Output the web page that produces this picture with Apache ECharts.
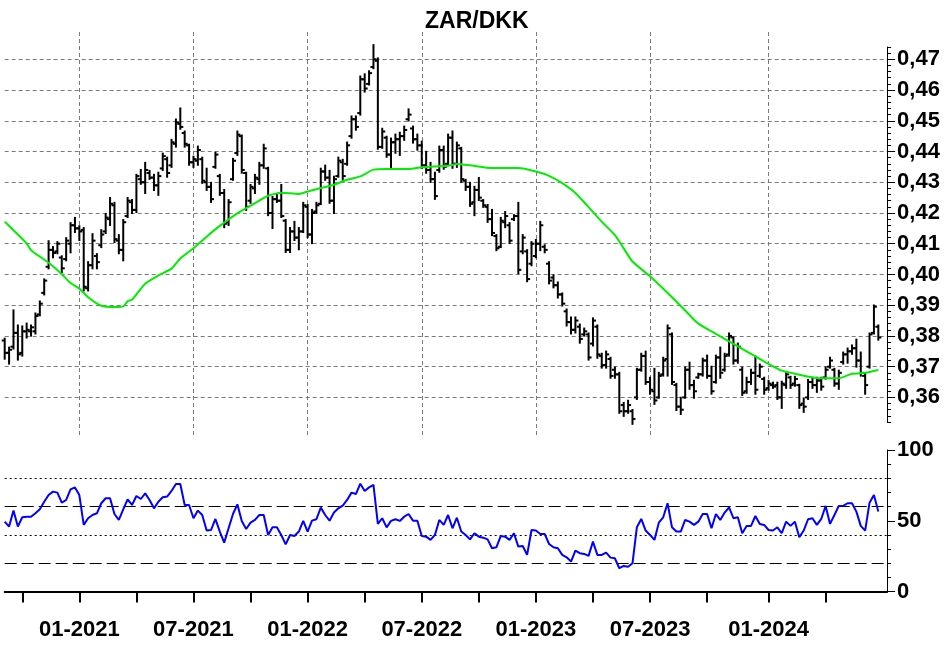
<!DOCTYPE html>
<html>
<head>
<meta charset="utf-8">
<script src="https://cdn.jsdelivr.net/npm/echarts@6/dist/echarts.min.js"></script>
<style>html,body{margin:0;padding:0;background:#fff}#c{width:950px;height:650px}</style>
</head>
<body>
<div id="c"></div>
<script>
// ---- data (weekly bars, Sunday-dated weeks) ----
const firstWeek = '2020-09-06';
const weekCount = 202; // 200 bars + 2 empty weeks of right margin

const open = [
.3785,.3745,.3765,.3810,.3745,.3815,.3815,.3815,.3870,.3940,
.4025,.4080,.4075,.4055,.4050,.4100,.4160,.4150,.4145,.3955,
.4030,.4060,.4095,.4140,.4180,.4225,.4110,.4080,.4190,.4235,
.4210,.4310,.4300,.4330,.4315,.4290,.4345,.4375,.4355,.4425,
.4490,.4460,.4420,.4365,.4370,.4375,.4300,.4285,.4350,.4320,
.4265,.4170,.4310,.4395,.4450,.4330,.4240,.4280,.4310,.4355,
.4345,.4200,.4245,.4240,.4175,.4080,.4140,.4120,.4140,.4220,
.4130,.4205,.4230,.4335,.4315,.4240,.4320,.4365,.4360,.4450,
.4505,.4525,.4635,.4620,.4675,.4695,.4415,.4445,.4390,.4430,
.4440,.4450,.4505,.4475,.4440,.4420,.4355,.4340,.4310,.4340,
.4405,.4360,.4445,.4360,.4410,.4305,.4285,.4235,.4275,.4240,
.4220,.4180,.4125,.4090,.4170,.4160,.4180,.4190,.4075,.4075,
.4035,.4060,.4100,.4090,.4035,.3990,.3965,.3935,.3880,.3845,
.3820,.3830,.3805,.3805,.3775,.3830,.3735,.3705,.3725,.3690,
.3675,.3575,.3555,.3555,.3600,.3690,.3735,.3650,.3620,.3600,
.3675,.3725,.3805,.3640,.3570,.3600,.3690,.3640,.3665,.3675,
.3720,.3670,.3650,.3730,.3690,.3740,.3795,.3720,.3690,.3620,
.3650,.3680,.3670,.3660,.3630,.3640,.3640,.3600,.3640,.3665,
.3645,.3640,.3580,.3600,.3650,.3640,.3655,.3665,.3700,.3690,
.3645,.3715,.3740,.3750,.3760,.3720,.3670,.3700,.3810,.3830];

const high = [
.3791,.3762,.3883,.3834,.3831,.3840,.3834,.3873,.3912,.3984,
.4108,.4089,.4105,.4059,.4118,.4167,.4184,.4157,.4151,.4040,
.4131,.4066,.4144,.4197,.4249,.4233,.4128,.4177,.4249,.4242,
.4324,.4340,.4363,.4337,.4324,.4331,.4393,.4380,.4438,.4504,
.4540,.4465,.4422,.4383,.4416,.4380,.4344,.4298,.4396,.4324,
.4275,.4242,.4376,.4465,.4452,.4331,.4291,.4324,.4363,.4422,
.4347,.4252,.4259,.4291,.4177,.4151,.4171,.4151,.4233,.4226,
.4210,.4233,.4344,.4354,.4337,.4318,.4380,.4373,.4429,.4514,
.4514,.4644,.4651,.4661,.4746,.4703,.4474,.4448,.4442,.4455,
.4461,.4481,.4537,.4481,.4455,.4432,.4399,.4363,.4331,.4416,
.4416,.4455,.4465,.4429,.4412,.4308,.4298,.4285,.4314,.4242,
.4226,.4210,.4128,.4184,.4203,.4167,.4193,.4233,.4128,.4079,
.4105,.4112,.4171,.4095,.4040,.3997,.3974,.3938,.3886,.3860,
.3860,.3837,.3824,.3808,.3857,.3834,.3742,.3749,.3729,.3697,
.3680,.3582,.3589,.3559,.3693,.3742,.3749,.3664,.3693,.3680,
.3729,.3834,.3808,.3644,.3599,.3697,.3713,.3654,.3677,.3726,
.3736,.3700,.3736,.3762,.3742,.3808,.3795,.3775,.3697,.3664,
.3690,.3733,.3707,.3664,.3654,.3648,.3648,.3651,.3680,.3667,
.3667,.3641,.3595,.3657,.3664,.3664,.3664,.3697,.3729,.3693,
.3687,.3746,.3759,.3769,.3788,.3746,.3677,.3808,.3899,.3834];

const low = [
.3726,.3710,.3759,.3723,.3736,.3795,.3801,.3808,.3867,.3935,
.4020,.4056,.4069,.4007,.4046,.4072,.4138,.4112,.3948,.3948,
.4020,.4020,.4089,.4135,.4161,.4105,.4069,.4046,.4187,.4200,
.4203,.4295,.4265,.4311,.4275,.4259,.4340,.4318,.4350,.4416,
.4474,.4416,.4357,.4350,.4357,.4298,.4275,.4236,.4347,.4259,
.4154,.4161,.4308,.4389,.4331,.4210,.4233,.4265,.4295,.4347,
.4193,.4151,.4236,.4187,.4073,.4073,.4112,.4082,.4138,.4121,
.4102,.4200,.4229,.4308,.4233,.4200,.4318,.4308,.4357,.4445,
.4471,.4520,.4595,.4618,.4671,.4409,.4412,.4383,.4347,.4396,
.4389,.4438,.4501,.4429,.4406,.4347,.4331,.4301,.4246,.4334,
.4344,.4357,.4347,.4350,.4301,.4275,.4223,.4193,.4242,.4220,
.4171,.4128,.4079,.4089,.4154,.4102,.4177,.4004,.4069,.3978,
.4030,.4056,.4079,.4072,.3971,.3958,.3925,.3899,.3834,.3808,
.3811,.3778,.3801,.3723,.3769,.3729,.3697,.3697,.3664,.3664,
.3550,.3540,.3550,.3514,.3595,.3687,.3644,.3612,.3579,.3599,
.3671,.3671,.3644,.3559,.3546,.3599,.3628,.3599,.3664,.3671,
.3664,.3612,.3648,.3664,.3687,.3736,.3710,.3713,.3608,.3615,
.3644,.3612,.3667,.3612,.3625,.3631,.3595,.3566,.3631,.3631,
.3638,.3566,.3553,.3595,.3631,.3618,.3625,.3661,.3697,.3638,
.3628,.3710,.3713,.3742,.3700,.3671,.3612,.3697,.3808,.3788];

const close = [
.3745,.3755,.3810,.3740,.3815,.3820,.3828,.3865,.3905,.3980,
.4080,.4070,.4100,.4020,.4110,.4160,.4150,.4140,.3960,.4030,
.4110,.4040,.4130,.4185,.4230,.4115,.4080,.4170,.4240,.4210,
.4320,.4300,.4340,.4315,.4290,.4320,.4385,.4330,.4430,.4495,
.4480,.4425,.4365,.4375,.4405,.4305,.4285,.4245,.4390,.4265,
.4165,.4235,.4370,.4455,.4340,.4220,.4285,.4315,.4355,.4410,
.4200,.4245,.4240,.4190,.4080,.4140,.4120,.4140,.4225,.4130,
.4200,.4225,.4335,.4315,.4240,.4310,.4370,.4320,.4420,.4505,
.4480,.4635,.4605,.4655,.4700,.4415,.4465,.4390,.4430,.4440,
.4450,.4470,.4520,.4440,.4420,.4355,.4340,.4310,.4255,.4405,
.4350,.4445,.4360,.4420,.4310,.4285,.4230,.4275,.4250,.4225,
.4180,.4135,.4085,.4175,.4190,.4110,.4190,.4015,.4120,.3985,
.4100,.4100,.4160,.4080,.3980,.3965,.3935,.3905,.3845,.3820,
.3850,.3790,.3815,.3730,.3850,.3740,.3705,.3740,.3670,.3675,
.3555,.3555,.3575,.3530,.3690,.3735,.3650,.3625,.3590,.3670,
.3720,.3825,.3650,.3570,.3560,.3690,.3640,.3620,.3675,.3720,
.3670,.3620,.3730,.3680,.3735,.3800,.3720,.3765,.3615,.3650,
.3680,.3625,.3700,.3625,.3645,.3635,.3600,.3645,.3675,.3640,
.3660,.3575,.3570,.3650,.3640,.3655,.3635,.3690,.3720,.3645,
.3680,.3740,.3750,.3760,.3720,.3680,.3640,.3805,.3895,.3795];

// moving average, read at bar positions [barIndex, value]
const maPoints = [
[0,.4172],[2,.4144],[5,.4101],[6,.4079],[10,.4038],[13,.4001],[15,.3972],[17,.3954],
[19,.3926],[22,.3898],[25,.3894],[27,.3896],[28,.3913],[29,.3918],[32,.3970],[35,.3997],
[38,.4019],[40,.4052],[43,.4085],[46,.4123],[49,.4158],[53,.4199],[57,.4232],[60,.4256],
[63,.4266],[67,.4262],[69,.4270],[72,.4281],[75,.4292],[78,.4308],[81,.4319],[84,.4341],
[87,.4343],[92,.4343],[95,.4349],[101,.4354],[103,.4359],[106,.4355],[111,.4346],[117,.4346],
[121,.4335],[124,.4321],[127,.4297],[130,.4265],[133,.4219],[136,.4172],[139,.4128],[141,.4085],
[143,.4042],[147,.3994],[152,.3926],[155,.3883],[158,.3840],[162,.3807],[166,.3774],[170,.3742],
[174,.3709],[177,.3687],[181,.3674],[185,.3663],[190,.3662],[193,.3677],[196,.3680],[199,.3689]];

const rsi = [
49.4,45.9,57.2,45.9,52.5,52.9,52.9,55.3,58.1,63.5,
68.2,70.6,69.9,62.8,64.7,72.2,73.6,68.2,47.1,51.8,
54.1,55.3,62.4,65.9,65.9,54.8,50.6,58.1,65.2,61.2,
67.5,65.4,69.4,64.7,58.8,63.5,66.6,67.1,71.1,76.0,
76.0,61.2,61.2,51.8,57.2,54.1,43.1,43.5,51.3,42.4,
34.6,44.7,54.8,61.6,49.9,44.2,48.7,50.6,54.1,54.1,
40.0,45.4,45.4,40.0,33.4,40.0,39.3,42.4,49.9,42.4,
50.1,51.1,59.3,54.1,50.1,55.8,58.8,60.7,64.7,69.9,
68.9,76.2,71.1,73.6,75.3,47.8,51.8,45.4,49.9,51.1,
49.9,52.9,54.8,50.1,50.1,39.3,38.8,36.5,40.0,50.6,
47.1,54.1,44.7,52.2,42.4,40.0,36.9,41.2,38.8,38.1,
36.9,30.6,31.3,39.3,38.8,36.5,41.2,31.8,32.2,25.9,
43.5,43.1,40.7,40.7,33.6,31.3,30.6,25.9,24.2,21.2,
28.9,27.1,26.6,25.2,35.3,25.9,25.9,27.5,24.0,23.5,
16.5,18.1,17.6,20.0,45.4,51.3,43.1,40.0,36.5,48.7,
52.5,62.4,45.4,42.4,42.4,50.6,49.4,47.1,49.4,54.8,
54.8,44.7,54.8,50.6,55.8,59.5,51.8,52.5,41.2,46.4,
46.4,53.4,47.8,47.1,43.5,43.1,45.4,41.2,49.4,46.4,
49.4,38.4,43.1,51.1,51.8,47.1,51.3,60.5,47.8,54.1,
60.5,60.5,62.4,62.4,56.5,46.4,43.1,62.8,68.2,56.5];

const priceTicks = [0.36,0.37,0.38,0.39,0.40,0.41,0.42,0.43,0.44,0.45,0.46,0.47];
const rsiLevels = [80,60,40,20];

// ---- build ----
const weeks = [];
(function () {
  const t0 = Date.parse(firstWeek + 'T00:00:00Z');
  for (let k = 0; k < weekCount; k++) weeks.push(new Date(t0 + k * 604800000).toISOString().slice(0, 10));
})();
const barCount = open.length;
const ohlc = open.map((o, i) => [i, o, high[i], low[i], close[i]]);
const rsiData = rsi.map((v, i) => [i, v]);

const FONT = 'Liberation Sans, Arial, sans-serif';
const firstWeekOf = (i, v, months) => i < barCount && +v.slice(8, 10) <= 7 && months.indexOf(+v.slice(5, 7)) >= 0;
const halfYear = (i, v) => firstWeekOf(i, v, [1, 7]);
const quarter = (i, v) => firstWeekOf(i, v, [1, 4, 7, 10]);
const labelStyle = { fontSize: 22, fontWeight: 'bold', color: '#000', fontFamily: FONT };

const GL = 4.7, GR = 62.9;

const chart = echarts.init(document.getElementById('c'), null, { renderer: 'canvas', devicePixelRatio: 1 });
chart.setOption({
  animation: false,
  backgroundColor: '#fff',
  title: { text: 'ZAR/DKK', left: 420, top: 5, textStyle: { fontSize: 23, fontWeight: 'bold', color: '#000', fontFamily: FONT } },
  grid: [
    { left: GL, right: GR, top: 47, height: 375 },
    { left: GL, right: GR, top: 450, height: 141.6 },
    { left: GL, right: GR, top: 32, height: 403 }
  ],
  xAxis: [
    { gridIndex: 0, type: 'category', data: weeks, boundaryGap: false, axisLine: { show: false }, axisTick: { show: false }, axisLabel: { show: false }, splitLine: { show: false } },
    { gridIndex: 1, type: 'category', data: weeks, boundaryGap: false, offset: 14,
      axisLine: { show: true, lineStyle: { color: '#000', width: 2 } },
      axisTick: { show: true, interval: quarter, length: 11, lineStyle: { color: '#000', width: 2 } },
      axisLabel: Object.assign({ interval: halfYear, margin: 13, formatter: v => v.slice(5, 7) + '-' + v.slice(0, 4) }, labelStyle),
      splitLine: { show: false } },
    { gridIndex: 2, type: 'category', data: weeks, boundaryGap: false, axisLine: { show: false }, axisTick: { show: false }, axisLabel: { show: false },
      splitLine: { show: true, interval: halfYear, lineStyle: { color: '#7a7a7a', width: 1, type: [4, 3] } } }
  ],
  yAxis: [
    { gridIndex: 0, type: 'value', position: 'right', min: 0.352, max: 0.474, interval: 0.002, scale: true,
      axisLine: { show: true, lineStyle: { color: '#000', width: 1 } },
      axisTick: { show: true, length: 4, lineStyle: { color: '#000', width: 1 } },
      axisLabel: { show: false }, splitLine: { show: false } },
    { gridIndex: 0, type: 'value', position: 'right', min: 0.352, max: 0.474, interval: 0.002, scale: true,
      axisLine: { show: false },
      axisTick: { show: true, length: 8, customValues: priceTicks, lineStyle: { color: '#000', width: 1 } },
      axisLabel: Object.assign({ show: true, customValues: priceTicks, margin: 10, formatter: v => v.toFixed(2).replace('.', ',') }, labelStyle),
      splitLine: { show: false } },
    { gridIndex: 1, type: 'value', position: 'right', min: 0, max: 100, interval: 10,
      axisLine: { show: true, lineStyle: { color: '#000', width: 1 } },
      axisTick: { show: true, length: 4, lineStyle: { color: '#000', width: 1 } },
      axisLabel: { show: false }, splitLine: { show: false } },
    { gridIndex: 1, type: 'value', position: 'right', min: 0, max: 100, interval: 50,
      axisLine: { show: false },
      axisTick: { show: true, length: 8, lineStyle: { color: '#000', width: 1 } },
      axisLabel: Object.assign({ show: true, margin: 10 }, labelStyle),
      splitLine: { show: false } },
    { gridIndex: 2, type: 'value', show: false, min: 0, max: 1 }
  ],
  series: [
    { type: 'line', xAxisIndex: 0, yAxisIndex: 0, data: ohlc.map(r => [r[0], r[4]]), symbol: 'none', silent: true, z: 1,
      lineStyle: { opacity: 0 },
      markLine: { silent: true, symbol: 'none', z: 1, label: { show: false }, animation: false,
        lineStyle: { color: '#7a7a7a', width: 1, type: [4, 3] },
        data: priceTicks.map(v => ({ yAxis: v })) } },
    { type: 'custom', xAxisIndex: 0, yAxisIndex: 0, clip: false, z: 2, data: ohlc,
      encode: { x: 0, y: [1, 2, 3, 4] },
      renderItem: function (params, api) {
        const i = api.value(0);
        const po = api.coord([i, api.value(1)]), ph = api.coord([i, api.value(2)]),
              pl = api.coord([i, api.value(3)]), pc = api.coord([i, api.value(4)]);
        const st = { stroke: '#000', lineWidth: 2 };
        return { type: 'group', children: [
          { type: 'line', shape: { x1: ph[0], y1: ph[1] - 1, x2: pl[0], y2: pl[1] + 1 }, style: st },
          { type: 'line', shape: { x1: po[0] - 3, y1: po[1], x2: po[0], y2: po[1] }, style: st },
          { type: 'line', shape: { x1: pc[0], y1: pc[1], x2: pc[0] + 3, y2: pc[1] }, style: st }
        ] };
      } },
    { type: 'line', xAxisIndex: 0, yAxisIndex: 0, data: maPoints, symbol: 'none', z: 3, smooth: 0.2,
      lineStyle: { color: '#00ee00', width: 2 } },
    { type: 'line', xAxisIndex: 1, yAxisIndex: 2, data: rsiData, symbol: 'none', z: 3,
      lineStyle: { color: '#0000ff', width: 2 },
      markLine: { silent: true, symbol: 'none', z: 1, label: { show: false }, animation: false,
        data: rsiLevels.map((v, k) => ({ yAxis: v, lineStyle: { color: '#000', width: 1, type: k % 2 === 0 ? [2, 3] : [12, 5] } })) } }
  ]
});
</script>
</body>
</html>
